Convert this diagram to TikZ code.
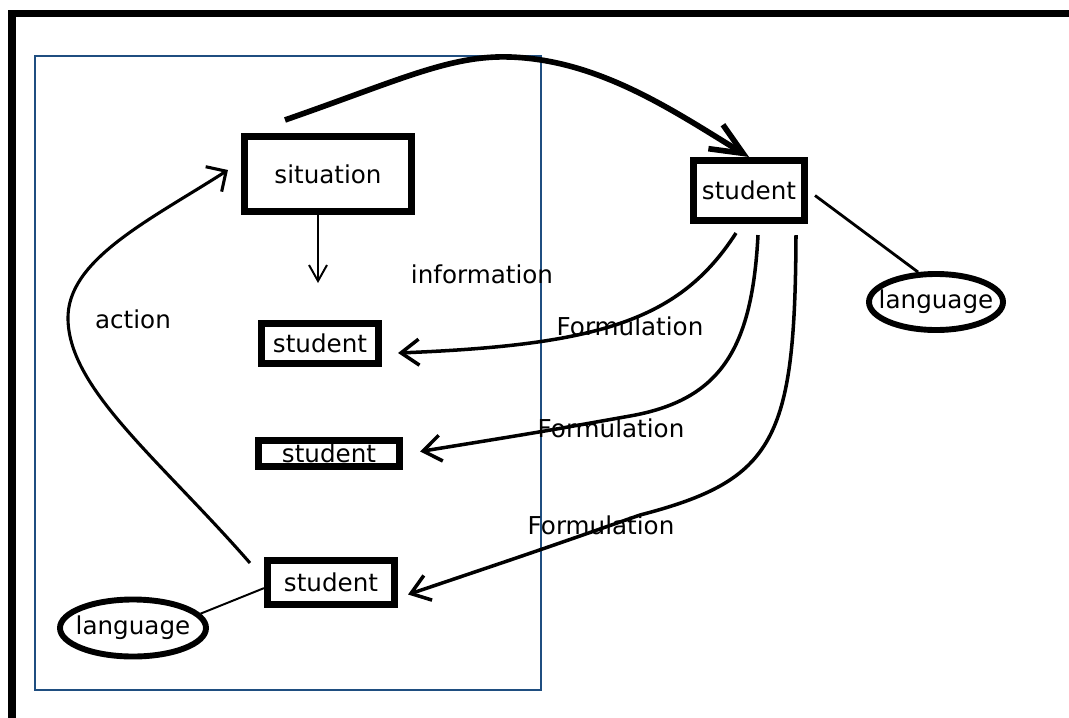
\documentclass[tikz,border=0pt]{standalone}
\usepackage{fontspec}
\setmainfont{DejaVu Sans}
\usepackage{tikz}
\usetikzlibrary{calc, arrows.meta, shapes.geometric}
\definecolor{frameblue}{RGB}{31,78,128}

\begin{document}
\begin{tikzpicture}[x=0.025cm, y=-0.025cm,
  font=\fontsize{17.5}{21}\selectfont,
  box/.style={draw, line width=5pt, inner sep=0pt},
  bubble/.style={draw, ellipse, line width=4.2pt, inner sep=0pt},
  flow/.style={line width=2.5pt, -{Straight Barb[length=4.5mm,width=6.5mm]}},
  thinline/.style={line width=1.4pt}]
\useasboundingbox (0,0) rectangle (1069,717);
\draw [line width=5pt] (12,13.5) rectangle (1120,760);
\draw [frameblue, line width=1.6pt] (35,56) rectangle (541,690);
\node [box, minimum width=4.175cm, minimum height=1.875cm] (situation) at (328,174) {situation};
\node [box, minimum width=2.925cm, minimum height=1cm] (studentA) at (320,343.5) {student};
\node [box, minimum width=3.525cm, minimum height=0.65cm] (studentB) at (329,453.5) {student};
\node [box, minimum width=3.175cm, minimum height=1.1cm] (studentC) at (331,582.5) {student};
\node [box, minimum width=2.775cm, minimum height=1.5cm] (studentR) at (749,190.5) {student};
\node [bubble, inner xsep=-4.5pt, minimum width=3.65cm, minimum height=1.425cm] (languageL) at (133,628) {language};
\node [bubble, inner xsep=-7.5pt, minimum width=3.35cm, minimum height=1.4cm] (languageR) at (936,302) {language};
\coordinate (infoTip) at (318,283);
\draw [line width=4pt, -{Straight Barb[length=8mm,width=7mm]}] ($(situation.north)+(-43,-13)$) .. controls (400,80) and (450,55) .. (510,57) .. controls (600,60) and (675,112) .. (studentR.north);
\draw [line width=2.2pt, -{Straight Barb[length=3.7mm,width=7.4mm]}] ($(studentC.north west)+(-14,6)$) .. controls (160,460) and (70,390) .. (68,320) .. controls (66,260) and (150,220) .. ($(situation.west)+(-13,-4)$);
\draw [thinline, -{Straight Barb[length=4mm,width=4.5mm]}] (situation.south -| infoTip) -- (infoTip);
\draw [flow] ($(studentR.south)+(-13,9)$) .. controls (680,320) and (600,345) .. ($(studentA.east)+(16,9.5)$);
\draw [flow] ($(studentR.south)+(9,11)$) .. controls (752,350) and (720,400) .. (630,416) .. controls (540,432) .. ($(studentB.east)+(17,-2)$);
\draw [flow] ($(studentR.south)+(47,11)$) .. controls (795,440) and (775,480) .. (640,515) .. controls (540,550) .. ($(studentC.east)+(10,12)$);
\draw [thinline] (languageL.12) -- ([yshift=-4pt]studentC.west);
\draw [line width=2pt] ($(studentR.east)+(7,5)$) -- (languageR.121);
\node (information) at (482,274) {information};
\node (action) at (133,319) {action};
\node (formA) at (630,326) {Formulation};
\node (formB) at (611,428) {Formulation};
\node (formC) at (601,525) {Formulation};
\end{tikzpicture}
\end{document}
